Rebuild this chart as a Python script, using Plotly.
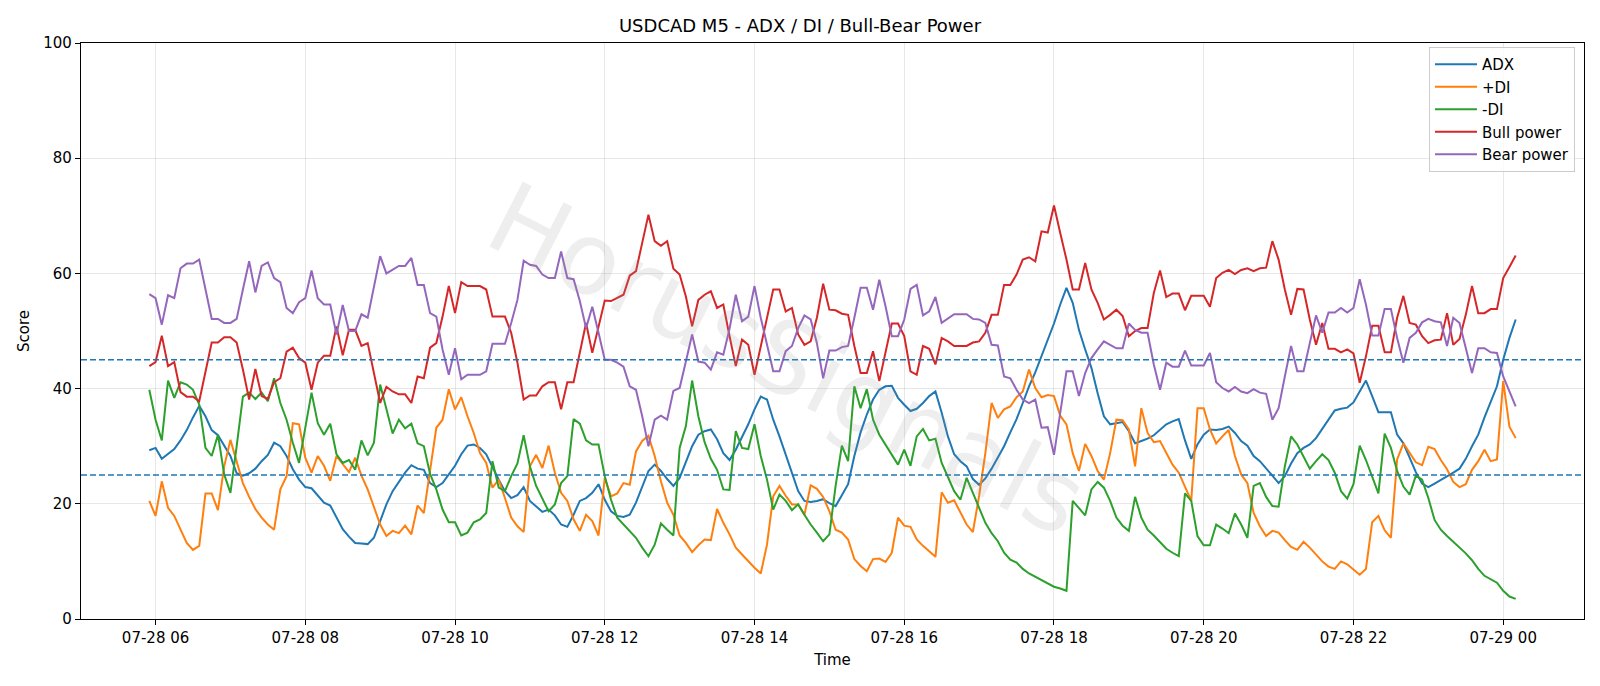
import pandas as pd
import plotly.graph_objects as go

start_time = "2025-07-28 05:55"
n_points = 220
times = pd.date_range(start_time, periods=n_points, freq="5min")

adx = [
    29.3, 29.7, 27.8, 28.7, 29.5, 31.0, 32.8, 35.0, 37.0, 35.2, 32.8, 31.9, 30.1, 28.3, 25.3, 24.9, 25.3, 26.1, 27.4, 28.5, 30.6, 30.0,
    28.3, 26.0, 24.2, 22.9, 22.7, 21.5, 20.2, 19.7, 17.6, 15.6, 14.3, 13.2, 13.1, 13.0, 14.1, 17.0, 19.9, 22.2, 23.8, 25.4, 26.7, 26.1, 25.9,
    23.6, 22.9, 23.6, 25.1, 26.6, 28.6, 30.1, 30.3, 29.7, 28.6, 26.3, 24.2, 22.2, 21.0, 21.5, 22.9, 20.5, 19.6, 18.6, 19.0, 18.0, 16.4,
    16.0, 18.1, 20.5, 21.0, 21.9, 23.4, 20.7, 18.7, 17.9, 17.7, 18.1, 20.2, 23.1, 25.7, 26.8, 25.7, 24.3, 23.1, 24.5, 27.1, 30.0, 32.0,
    32.6, 32.9, 31.2, 28.8, 27.6, 29.4, 31.5, 33.8, 36.4, 38.6, 38.1, 34.6, 31.7, 28.6, 25.4, 22.2, 20.5, 20.3, 20.5, 20.8, 20.1, 19.6, 21.5,
    23.4, 28.3, 32.4, 35.5, 38.1, 39.8, 40.4, 40.5, 38.4, 37.2, 36.1, 36.5, 37.5, 38.7, 39.5, 35.8, 31.7, 28.6, 27.4, 26.5, 24.3, 23.3,
    24.4, 26.1, 28.0, 30.0, 32.4, 34.7, 37.5, 40.4, 42.8, 45.6, 48.4, 51.3, 54.6, 57.5, 54.9, 50.2, 46.8, 43.6, 39.2, 35.2, 33.8, 34.0, 34.2,
    32.6, 30.5, 30.9, 31.3, 31.9, 32.8, 33.8, 34.3, 34.7, 31.0, 27.8, 30.3, 32.0, 32.9, 32.8, 33.0, 33.4, 32.3, 30.9, 30.1, 28.3, 27.4,
    26.2, 24.9, 23.6, 24.8, 27.0, 28.8, 29.7, 30.3, 31.4, 33.0, 34.6, 36.2, 36.5, 36.7, 37.6, 39.6, 41.4, 38.7, 35.9, 35.9, 35.9, 32.0, 30.5,
    28.0, 25.5, 23.5, 22.9, 23.5, 24.1, 24.8, 25.4, 26.1, 27.8, 30.0, 32.0, 35.0, 37.8, 40.4, 45.0, 48.8, 52.0,
]

plus_di = [
    20.5, 17.9, 23.9, 19.3, 17.9, 15.5, 13.2, 12.0, 12.7, 21.8, 21.8, 18.9, 26.5, 31.1, 27.4, 23.6, 21.2, 19.1, 17.6, 16.4, 15.5, 22.5,
    24.8, 34.0, 33.8, 28.0, 25.4, 28.3, 26.6, 24.0, 28.3, 26.8, 25.5, 28.0, 24.9, 22.5, 19.3, 16.4, 14.4, 15.3, 14.9, 16.2, 14.7, 19.7, 18.4,
    26.2, 33.2, 34.6, 39.9, 36.4, 38.5, 35.2, 32.3, 28.8, 27.1, 22.8, 24.2, 21.0, 17.6, 16.1, 15.1, 26.5, 28.5, 26.2, 30.1, 25.4, 21.9,
    20.5, 17.3, 15.3, 18.1, 17.0, 14.5, 24.5, 21.3, 21.8, 23.6, 23.3, 29.1, 30.9, 31.8, 28.3, 23.9, 20.2, 18.1, 14.5, 13.2, 11.6, 12.8,
    13.8, 13.7, 19.1, 16.7, 14.7, 12.4, 11.2, 10.0, 8.9, 7.9, 12.9, 21.3, 23.1, 21.4, 19.9, 19.9, 18.1, 23.2, 22.6, 21.2, 18.7, 15.5, 15.0,
    13.8, 10.4, 9.2, 8.3, 10.4, 10.5, 9.9, 11.5, 17.6, 16.2, 16.0, 13.8, 12.7, 11.8, 10.8, 22.0, 20.2, 20.6, 18.6, 16.4, 15.1, 21.4,
    28.8, 37.5, 34.9, 36.4, 36.9, 38.5, 39.5, 43.3, 40.1, 38.5, 38.9, 38.7, 35.3, 33.8, 28.8, 25.7, 30.4, 28.3, 25.7, 24.2, 28.8, 34.6, 34.5,
    32.9, 26.5, 36.6, 32.3, 30.7, 30.9, 28.8, 26.8, 25.4, 22.8, 20.5, 36.6, 36.6, 32.9, 30.5, 31.7, 32.8, 28.3, 25.1, 23.6, 18.4, 16.1,
    14.4, 15.3, 15.0, 13.7, 12.5, 12.0, 13.4, 12.4, 11.2, 10.0, 9.1, 8.7, 10.0, 9.5, 8.6, 7.7, 8.7, 16.8, 17.9, 15.4, 14.1, 27.7, 30.5,
    28.8, 27.2, 26.7, 29.9, 29.5, 27.6, 26.0, 23.8, 22.9, 23.4, 25.9, 27.4, 29.4, 27.4, 27.7, 41.3, 33.4, 31.4,
]

minus_di = [
    39.8, 34.6, 31.0, 41.4, 38.4, 41.1, 40.7, 39.8, 37.2, 29.7, 28.3, 32.0, 25.1, 21.9, 30.0, 38.6, 39.3, 38.2, 39.3, 37.8, 41.8, 37.5,
    34.6, 30.6, 27.1, 33.2, 39.3, 34.0, 32.0, 33.9, 28.6, 27.1, 27.6, 25.9, 31.0, 28.4, 30.6, 40.7, 36.4, 32.2, 34.6, 33.1, 33.9, 30.5, 30.0,
    25.2, 22.5, 19.0, 16.8, 16.8, 14.5, 15.0, 16.8, 17.3, 18.4, 27.4, 22.8, 22.2, 24.8, 27.0, 31.9, 26.5, 23.1, 21.0, 18.7, 19.9, 23.6,
    24.8, 34.7, 33.9, 31.0, 30.3, 30.3, 24.8, 20.7, 17.6, 16.4, 15.2, 14.1, 12.4, 10.9, 12.9, 16.6, 15.5, 14.5, 29.7, 33.5, 41.4, 35.2,
    30.7, 27.8, 25.9, 22.5, 22.4, 32.6, 29.7, 29.5, 33.8, 28.3, 24.2, 19.0, 21.6, 20.5, 18.9, 19.9, 18.1, 16.4, 15.0, 13.5, 14.7, 23.1, 30.1,
    27.4, 40.4, 36.6, 39.9, 34.6, 32.0, 30.3, 28.6, 26.8, 29.4, 26.6, 31.7, 33.0, 31.0, 31.3, 27.1, 24.8, 22.2, 20.7, 24.5, 21.9, 19.3,
    16.7, 14.9, 13.5, 11.5, 10.3, 9.8, 8.7, 7.9, 7.3, 6.8, 6.2, 5.6, 5.3, 4.9, 20.5, 19.3, 18.0, 22.5, 23.8, 22.8, 20.5, 17.6, 16.2,
    15.3, 21.2, 17.6, 15.5, 14.5, 13.4, 12.2, 11.5, 10.9, 21.8, 20.5, 14.4, 12.8, 12.8, 16.4, 15.7, 14.9, 18.3, 16.4, 14.1, 23.1, 23.6,
    21.2, 19.6, 19.5, 26.5, 31.7, 30.3, 28.1, 26.1, 27.4, 28.6, 27.6, 25.4, 22.2, 20.9, 23.4, 30.1, 27.6, 24.7, 21.8, 32.2, 29.7, 25.7, 23.0,
    21.6, 24.9, 24.2, 21.0, 17.2, 15.5, 14.4, 13.4, 12.5, 11.4, 10.2, 8.7, 7.5, 6.9, 6.3, 4.9, 3.9, 3.5,
]

bull_power = [
    43.9, 44.6, 49.2, 43.9, 44.6, 39.4, 38.6, 38.6, 37.8, 43.0, 48.0, 48.0, 48.9, 48.9, 48.0, 43.3, 38.1, 43.4, 38.7, 38.2, 41.1, 41.8,
    46.4, 47.1, 45.3, 44.5, 39.8, 44.5, 45.7, 45.7, 50.8, 45.8, 50.2, 50.2, 47.4, 47.9, 43.0, 37.5, 40.3, 39.5, 39.0, 39.0, 37.5, 42.1, 41.8,
    47.1, 47.9, 52.5, 57.8, 53.1, 58.5, 57.8, 57.8, 57.8, 57.2, 52.5, 52.5, 52.5, 49.7, 44.5, 38.1, 38.8, 38.8, 40.4, 41.1, 41.1, 36.4,
    41.1, 41.1, 46.2, 51.4, 46.2, 50.8, 55.3, 55.2, 55.7, 56.3, 59.6, 60.4, 65.3, 70.2, 65.6, 64.8, 65.6, 60.8, 59.8, 56.0, 50.8, 55.4,
    56.3, 56.9, 54.0, 54.6, 49.1, 43.9, 48.5, 47.6, 42.4, 47.4, 52.0, 57.2, 57.2, 53.4, 54.0, 49.4, 47.6, 48.2, 52.3, 58.2, 53.7, 53.6, 53.0,
    52.8, 47.4, 42.7, 42.7, 46.5, 41.3, 46.2, 51.3, 51.3, 49.1, 43.0, 42.4, 47.4, 46.9, 44.2, 48.8, 48.2, 47.4, 47.4, 47.4, 48.0, 48.2,
    49.7, 52.8, 52.8, 58.0, 58.0, 59.8, 62.4, 62.8, 62.1, 67.3, 67.1, 71.8, 67.0, 62.4, 57.2, 57.2, 61.8, 57.2, 54.9, 52.0, 52.8, 53.7, 52.6,
    49.1, 50.0, 50.5, 50.5, 56.6, 60.5, 55.9, 56.5, 56.5, 53.6, 56.1, 56.1, 56.1, 54.2, 59.2, 60.1, 60.6, 59.9, 60.6, 60.9, 60.4, 60.9,
    61.0, 65.6, 62.4, 57.2, 52.8, 57.3, 57.2, 52.0, 47.6, 51.4, 46.9, 46.9, 46.3, 46.8, 46.1, 41.0, 45.6, 50.9, 50.9, 46.3, 46.3, 52.3, 56.1,
    51.4, 51.1, 49.1, 47.9, 48.4, 48.5, 53.1, 47.6, 48.6, 52.8, 57.8, 53.1, 53.1, 53.8, 53.8, 59.2, 61.1, 63.1,
]

bear_power = [
    56.4, 55.7, 51.1, 56.2, 55.7, 60.9, 61.7, 61.7, 62.4, 57.2, 52.1, 52.1, 51.4, 51.4, 52.1, 57.2, 62.1, 56.7, 61.3, 61.9, 59.2, 58.5,
    54.0, 53.1, 55.0, 55.7, 60.5, 55.7, 54.6, 54.6, 49.4, 54.5, 50.0, 50.0, 52.9, 52.3, 57.8, 63.0, 60.0, 60.6, 61.3, 61.3, 62.7, 58.0, 58.0,
    53.1, 52.5, 46.8, 42.4, 47.0, 41.6, 42.4, 42.4, 42.4, 43.0, 47.8, 47.8, 47.8, 51.4, 55.4, 62.2, 61.5, 61.3, 59.8, 59.2, 59.2, 63.8,
    59.2, 59.0, 55.2, 50.5, 54.2, 49.7, 45.0, 45.0, 44.5, 43.8, 40.4, 39.8, 35.2, 30.0, 34.6, 35.3, 34.6, 39.6, 40.1, 44.7, 49.4, 44.7,
    44.5, 43.3, 46.3, 45.9, 50.4, 56.3, 51.7, 52.5, 57.8, 52.3, 47.9, 43.0, 43.0, 46.5, 47.4, 50.5, 52.7, 52.0, 47.9, 41.8, 46.6, 46.6, 47.2,
    47.4, 52.3, 57.5, 57.5, 53.7, 58.9, 54.3, 49.1, 49.1, 52.0, 57.3, 58.0, 52.7, 53.4, 55.9, 51.4, 52.1, 52.9, 52.9, 52.9, 52.1, 52.0,
    51.4, 47.6, 47.5, 42.1, 41.8, 39.8, 38.1, 37.5, 38.1, 33.2, 33.3, 28.5, 35.8, 43.0, 43.0, 38.7, 42.7, 45.3, 46.8, 48.2, 47.6, 47.0, 47.0,
    51.3, 50.2, 49.7, 49.7, 44.2, 39.8, 44.5, 43.8, 43.8, 46.6, 44.0, 44.0, 44.0, 46.2, 41.1, 40.1, 39.5, 40.3, 39.5, 39.2, 39.9, 39.3,
    39.1, 34.6, 36.6, 42.1, 47.4, 43.0, 43.0, 47.9, 52.7, 49.7, 53.2, 53.2, 54.0, 53.2, 54.0, 59.0, 54.6, 49.2, 49.2, 53.8, 53.8, 48.8, 44.5,
    48.8, 49.7, 51.5, 52.1, 51.7, 51.5, 47.4, 52.3, 51.4, 46.9, 42.7, 47.0, 47.0, 46.3, 46.2, 42.1, 39.6, 36.9,
]

series = [
    ("ADX", adx, "#1f77b4"),
    ("+DI", plus_di, "#ff7f0e"),
    ("-DI", minus_di, "#2ca02c"),
    ("Bull power", bull_power, "#d62728"),
    ("Bear power", bear_power, "#9467bd"),
]
threshold_levels = [25, 45]
y_ticks = [0, 20, 40, 60, 80, 100]
x_tick_times = pd.date_range("2025-07-28 06:00", "2025-07-29 00:00", freq="2h")
x_range = ["2025-07-28 05:00:15", "2025-07-29 01:04:45"]
watermark_text = "HorusSignals"

FONT = "DejaVu Sans"
fig = go.Figure()
for name, vals, color in series:
    fig.add_trace(go.Scatter(x=times, y=vals, mode="lines", name=name,
                             line=dict(color=color, width=2)))

for lvl in threshold_levels:
    fig.add_shape(type="line", xref="paper", x0=0, x1=1, yref="y", y0=lvl, y1=lvl,
                  line=dict(color="#1f77b4", width=1.5, dash="6px,3px"), layer="above")

# faint watermark across the plot
fig.add_annotation(
    text=watermark_text, xref="paper", yref="paper", x=0.47, y=0.45,
    xanchor="center", yanchor="middle", showarrow=False, textangle=27,
    font=dict(family=FONT, size=100, color="rgba(150,150,150,0.16)"),
)

grid_color = "rgba(176,176,176,0.3)"
fig.update_layout(
    width=1600, height=686,
    margin=dict(l=81, r=16, t=43, b=67),
    paper_bgcolor="white", plot_bgcolor="white",
    font=dict(family=FONT, size=15, color="black"),
    title=dict(text="USDCAD M5 - ADX / DI / Bull-Bear Power", x=0.5, xanchor="center",
               y=1 - 25.5 / 686, yanchor="middle", font=dict(size=18, family=FONT, color="black")),
    showlegend=True,
    legend=dict(x=0.994, y=0.993, xanchor="right", yanchor="top",
                bgcolor="rgba(255,255,255,0.8)", bordercolor="#cccccc", borderwidth=1,
                font=dict(size=15, family=FONT), tracegroupgap=0, itemwidth=42),
)
fig.update_xaxes(
    range=x_range, tickvals=list(x_tick_times), tickformat="%m-%d %H",
    showgrid=True, gridcolor=grid_color, gridwidth=1,
    showline=True, linecolor="black", linewidth=1.2, mirror=True,
    ticks="outside", ticklen=5, tickcolor="black", tickwidth=1.2,
    tickfont=dict(size=15, family=FONT),
    title=dict(text="Time", font=dict(size=15, family=FONT), standoff=8),
    zeroline=False,
)
fig.update_yaxes(
    range=[0, 100], tickvals=y_ticks,
    showgrid=True, gridcolor=grid_color, gridwidth=1,
    showline=True, linecolor="black", linewidth=1.2, mirror=True,
    ticks="outside", ticklen=5, tickcolor="black", tickwidth=1.2,
    tickfont=dict(size=15, family=FONT),
    title=dict(text="Score", font=dict(size=15, family=FONT), standoff=10),
    zeroline=False,
)

fig.write_html("out.html")
